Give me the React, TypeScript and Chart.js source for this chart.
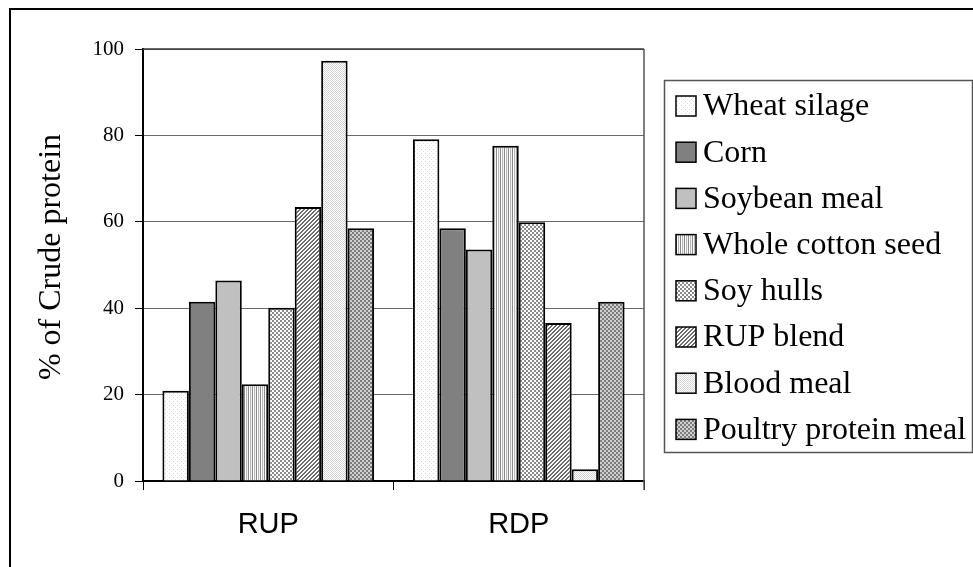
import { useEffect, useRef } from 'react';
import { Chart, registerables } from 'chart.js';

Chart.register(...registerables);

const categories = ['RUP', 'RDP'];
const seriesNames = [
  'Wheat silage',
  'Corn',
  'Soybean meal',
  'Whole cotton seed',
  'Soy hulls',
  'RUP blend',
  'Blood meal',
  'Poultry protein meal',
];
const wheatSilage = [20.9, 79.1];
const corn = [41.5, 58.5];
const soybeanMeal = [46.4, 53.6];
const wholeCottonSeed = [22.4, 77.6];
const soyHulls = [40.1, 59.9];
const rupBlend = [63.4, 36.6];
const bloodMeal = [97.3, 2.7];
const poultryProteinMeal = [58.5, 41.5];
const yTicks = [0, 20, 40, 60, 80, 100];
const yTitle = '% of Crude protein';

const seriesValues = [
  wheatSilage,
  corn,
  soybeanMeal,
  wholeCottonSeed,
  soyHulls,
  rupBlend,
  bloodMeal,
  poultryProteinMeal,
];

const SERIF = '"Liberation Serif", "Times New Roman", serif';

function makePattern(size: number, fn: (x: number, y: number) => string): CanvasPattern | string {
  const c = document.createElement('canvas');
  c.width = size;
  c.height = size;
  const g = c.getContext('2d');
  if (!g) return '#ccc';
  for (let y = 0; y < size; y++) {
    for (let x = 0; x < size; x++) {
      g.fillStyle = fn(x, y);
      g.fillRect(x, y, 1, 1);
    }
  }
  return g.createPattern(c, 'repeat') || '#ccc';
}

function buildFills(): (CanvasPattern | string)[] {
  return [
    makePattern(4, (x, y) => (x === 1 && y === 1 ? '#c4d8ee' : x === 3 && y === 3 ? '#dde8f4' : '#ffffff')),
    '#808080',
    '#c0c0c0',
    makePattern(4, (x) => ['#8a8a8a', '#ffffff', '#b8b8b8', '#f4f4f4'][x]),
    makePattern(4, (x, y) => ((Math.floor(x / 2) + Math.floor(y / 2)) % 2 === 0 ? '#8c8c8c' : '#ffffff')),
    makePattern(4, (x, y) => ((x + y) % 4 < 2 ? '#6e6e6e' : '#ffffff')),
    makePattern(2, (x, y) => ((x + y) % 2 === 0 ? '#d4d4d4' : '#ffffff')),
    makePattern(4, (x, y) => ((Math.floor(x / 2) + Math.floor(y / 2)) % 2 === 0 ? '#7c7c7c' : '#cfcfcf')),
  ];
}

export default function App() {
  const canvasRef = useRef<HTMLCanvasElement | null>(null);

  useEffect(() => {
    const canvas = canvasRef.current;
    if (!canvas) return;
    const fills = buildFills();

    const framePlugin = {
      id: 'frameAndLegend',
      afterDraw(chart: any) {
        const ctx = chart.ctx as CanvasRenderingContext2D;
        const area = chart.chartArea;
        ctx.save();
        // outer frame (only top/left visible)
        ctx.strokeStyle = '#000';
        ctx.lineWidth = 2;
        ctx.beginPath();
        ctx.moveTo(10, 1000);
        ctx.lineTo(10, 9);
        ctx.lineTo(1000, 9);
        ctx.stroke();

        // plot area top / right border
        ctx.lineWidth = 1.5;
        ctx.strokeStyle = '#3a3a3a';
        ctx.beginPath();
        ctx.moveTo(area.left, area.top);
        ctx.lineTo(area.right, area.top);
        ctx.stroke();
        ctx.strokeStyle = '#555';
        ctx.beginPath();
        ctx.moveTo(area.right, area.top);
        ctx.lineTo(area.right, area.bottom + 9);
        ctx.stroke();

        // y-axis title
        ctx.save();
        ctx.translate(52, (area.top + area.bottom) / 2 - 8);
        ctx.rotate(-Math.PI / 2);
        ctx.font = '32px ' + SERIF;
        ctx.fillStyle = '#000';
        ctx.textAlign = 'center';
        ctx.textBaseline = 'middle';
        ctx.fillText(yTitle, 0, 0);
        ctx.restore();

        // legend
        const lx = area.right + 20;
        const ly = 80;
        const lw = 308;
        const lh = 372;
        ctx.fillStyle = '#fff';
        ctx.fillRect(lx, ly, lw, lh);
        ctx.strokeStyle = '#555';
        ctx.lineWidth = 1.5;
        ctx.strokeRect(lx + 0.5, ly + 0.5, lw, lh);
        ctx.font = '32px ' + SERIF;
        ctx.textBaseline = 'middle';
        ctx.textAlign = 'left';
        const step = 46.2;
        seriesNames.forEach((name, i) => {
          const cy = ly + 26 + i * step;
          const sx = lx + 12;
          const sz = 20;
          ctx.fillStyle = fills[i] as any;
          ctx.fillRect(sx, cy - sz / 2, sz, sz);
          ctx.strokeStyle = '#000';
          ctx.lineWidth = 1.5;
          ctx.strokeRect(sx, cy - sz / 2, sz, sz);
          ctx.fillStyle = '#000';
          ctx.fillText(name, lx + 39, cy + 1);
        });
        ctx.restore();
      },
    };

    const chart = new Chart(canvas, {
      type: 'bar',
      data: {
        labels: categories,
        datasets: seriesNames.map((name, i) => ({
          label: name,
          data: seriesValues[i],
          backgroundColor: fills[i] as any,
          borderColor: '#000',
          borderWidth: 2,
          categoryPercentage: 0.845,
          barPercentage: 1.0,
        })),
      },
      options: {
        responsive: false,
        animation: false,
        devicePixelRatio: 1,
        layout: { padding: { left: 0, top: 49, right: 329, bottom: 0 } },
        plugins: {
          legend: { display: false },
          tooltip: { enabled: false },
        },
        scales: {
          x: {
            grid: {
              display: true,
              drawOnChartArea: false,
              drawTicks: true,
              tickLength: 9,
              color: '#000',
              lineWidth: 1,
            },
            border: { display: true, color: '#000', width: 2 },
            ticks: {
              color: '#000',
              font: { family: '"Liberation Sans", Arial, sans-serif', size: 29 },
              padding: 18,
            },
            afterFit(scale: any) {
              scale.height = 86;
            },
          },
          y: {
            min: 0,
            max: 100,
            afterBuildTicks(scale: any) {
              scale.ticks = yTicks.map((v) => ({ value: v }));
            },
            grid: {
              color: '#6a6a6a',
              lineWidth: 1,
              tickColor: '#000',
              tickLength: 8,
            },
            border: { display: true, color: '#000', width: 2 },
            ticks: {
              color: '#000',
              font: { family: SERIF, size: 21 },
              padding: 11,
            },
            title: { display: false },
            afterFit(scale: any) {
              scale.width = 143;
            },
          },
        },
      },
      plugins: [framePlugin],
    });

    return () => {
      chart.destroy();
    };
  }, []);

  return (
    <div style={{ position: 'fixed', left: 0, top: 0, width: 973, height: 567, background: '#fff' }}>
      <canvas ref={canvasRef} width={973} height={567} style={{ display: 'block' }} />
    </div>
  );
}
